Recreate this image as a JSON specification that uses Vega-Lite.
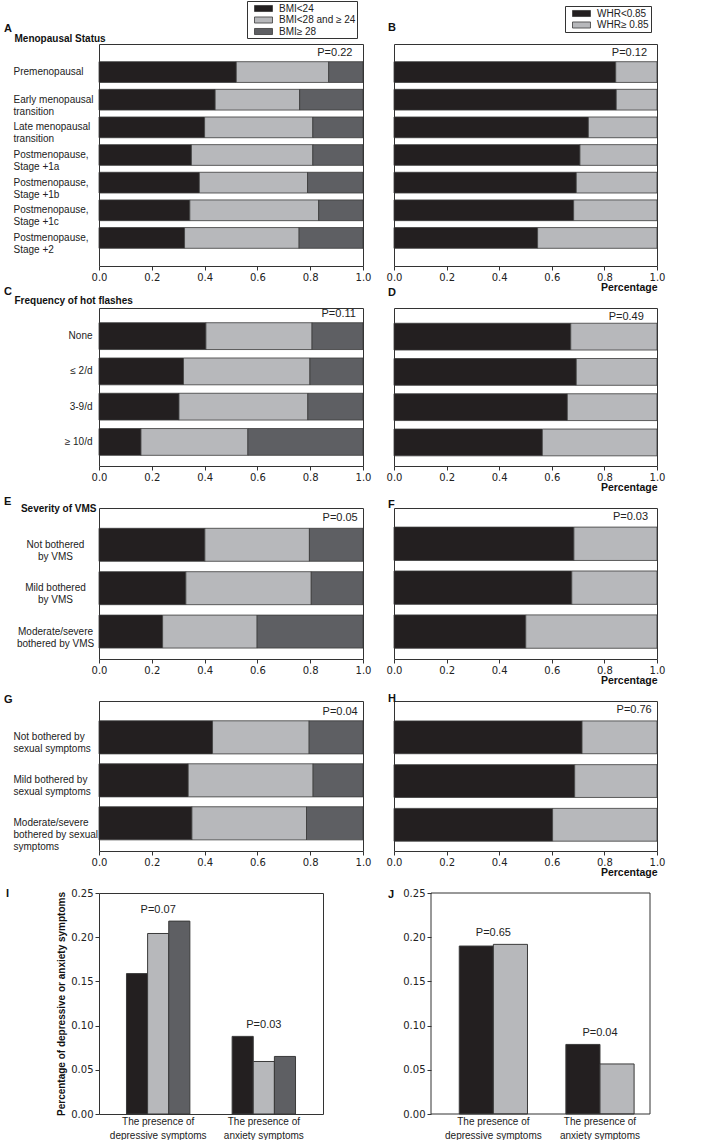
{
  "$schema": "https://vega.github.io/schema/vega-lite/v6.json",
  "padding": {"left": 3, "top": 0, "right": 2, "bottom": 0},
  "background": "white",
  "columns": 2,
  "spacing": {"row": 42, "column": 31},
  "bounds": "flush",
  "resolve": {"scale": {"color": "independent", "xOffset": "independent"}, "legend": {"color": "independent"}},
  "concat": [
    {
      "width": 264, "height": 222,
      "title": {"text": "A", "dx": -95, "offset": -33},
      "data": {"values": [
        {"cat": "Premenopausal", "grp": "BMI<24", "val": 0.52},
        {"cat": "Premenopausal", "grp": "BMI<28 and ≥ 24", "val": 0.35},
        {"cat": "Premenopausal", "grp": "BMI≥ 28", "val": 0.13},
        {"cat": "Early menopausal|transition", "grp": "BMI<24", "val": 0.44},
        {"cat": "Early menopausal|transition", "grp": "BMI<28 and ≥ 24", "val": 0.32},
        {"cat": "Early menopausal|transition", "grp": "BMI≥ 28", "val": 0.24},
        {"cat": "Late menopausal|transition", "grp": "BMI<24", "val": 0.40},
        {"cat": "Late menopausal|transition", "grp": "BMI<28 and ≥ 24", "val": 0.41},
        {"cat": "Late menopausal|transition", "grp": "BMI≥ 28", "val": 0.19},
        {"cat": "Postmenopause,|Stage +1a", "grp": "BMI<24", "val": 0.35},
        {"cat": "Postmenopause,|Stage +1a", "grp": "BMI<28 and ≥ 24", "val": 0.46},
        {"cat": "Postmenopause,|Stage +1a", "grp": "BMI≥ 28", "val": 0.19},
        {"cat": "Postmenopause,|Stage +1b", "grp": "BMI<24", "val": 0.38},
        {"cat": "Postmenopause,|Stage +1b", "grp": "BMI<28 and ≥ 24", "val": 0.41},
        {"cat": "Postmenopause,|Stage +1b", "grp": "BMI≥ 28", "val": 0.21},
        {"cat": "Postmenopause,|Stage +1c", "grp": "BMI<24", "val": 0.344},
        {"cat": "Postmenopause,|Stage +1c", "grp": "BMI<28 and ≥ 24", "val": 0.488},
        {"cat": "Postmenopause,|Stage +1c", "grp": "BMI≥ 28", "val": 0.168},
        {"cat": "Postmenopause,|Stage +2", "grp": "BMI<24", "val": 0.324},
        {"cat": "Postmenopause,|Stage +2", "grp": "BMI<28 and ≥ 24", "val": 0.434},
        {"cat": "Postmenopause,|Stage +2", "grp": "BMI≥ 28", "val": 0.242}
      ]},
      "layer": [
        {
          "mark": {"type": "bar"},
          "encoding": {
            "y": {"field": "cat", "type": "nominal", "sort": null, "scale": {"paddingInner": 0.25, "paddingOuter": 0.64},
                  "axis": {"title": "Menopausal Status", "titleAngle": 0, "titleAlign": "left", "titleBaseline": "middle", "titleX": -85, "titleY": -6, "titleFontSize": 10,
                           "domain": false, "ticks": false, "tickSize": 0, "labelAlign": "left", "labelPadding": 86, "labelFont": "Liberation Sans", "labelFontSize": 10, "labelLineHeight": 12, "labelExpr": "split(datum.label, '|')"}},
            "x": {"field": "val", "type": "quantitative", "stack": "zero", "scale": {"domain": [0, 1], "nice": false},
                  "axis": {"title": null, "values": [0, 0.2, 0.4, 0.6, 0.8, 1], "format": ".1f", "tickSize": 4, "labelPadding": 2, "labelFlush": false, "domain": false}},
            "color": {"field": "grp", "type": "nominal", "scale": {"domain": ["BMI<24", "BMI<28 and ≥ 24", "BMI≥ 28"], "range": ["#231f20", "#b7b8bb", "#5e5f63"]},
                      "legend": {"title": null, "orient": "none", "legendX": 148, "legendY": -43}}
          }
        },
        {
          "data": {"values": [{"p": "P=0.22"}]},
          "mark": {"type": "text", "align": "right", "baseline": "middle", "dy": -19},
          "encoding": {"x": {"datum": 0.96, "type": "quantitative"}, "y": {"datum": "Premenopausal", "type": "nominal"}, "text": {"field": "p", "type": "nominal"}}
        }
      ]
    },
    {
      "width": 263, "height": 222,
      "title": {"text": "B", "dx": -6, "offset": -27},
      "data": {"values": [
        {"cat": "Premenopausal", "grp": "WHR<0.85", "val": 0.843},
        {"cat": "Premenopausal", "grp": "WHR≥ 0.85", "val": 0.157},
        {"cat": "Early menopausal|transition", "grp": "WHR<0.85", "val": 0.845},
        {"cat": "Early menopausal|transition", "grp": "WHR≥ 0.85", "val": 0.155},
        {"cat": "Late menopausal|transition", "grp": "WHR<0.85", "val": 0.739},
        {"cat": "Late menopausal|transition", "grp": "WHR≥ 0.85", "val": 0.261},
        {"cat": "Postmenopause,|Stage +1a", "grp": "WHR<0.85", "val": 0.707},
        {"cat": "Postmenopause,|Stage +1a", "grp": "WHR≥ 0.85", "val": 0.293},
        {"cat": "Postmenopause,|Stage +1b", "grp": "WHR<0.85", "val": 0.693},
        {"cat": "Postmenopause,|Stage +1b", "grp": "WHR≥ 0.85", "val": 0.307},
        {"cat": "Postmenopause,|Stage +1c", "grp": "WHR<0.85", "val": 0.683},
        {"cat": "Postmenopause,|Stage +1c", "grp": "WHR≥ 0.85", "val": 0.317},
        {"cat": "Postmenopause,|Stage +2", "grp": "WHR<0.85", "val": 0.546},
        {"cat": "Postmenopause,|Stage +2", "grp": "WHR≥ 0.85", "val": 0.454}
      ]},
      "layer": [
        {
          "mark": {"type": "bar"},
          "encoding": {
            "y": {"field": "cat", "type": "nominal", "sort": null, "scale": {"paddingInner": 0.25, "paddingOuter": 0.64}, "axis": null},
            "x": {"field": "val", "type": "quantitative", "stack": "zero", "scale": {"domain": [0, 1], "nice": false},
                  "axis": {"title": "Percentage", "titleAnchor": "end", "titlePadding": 0, "values": [0, 0.2, 0.4, 0.6, 0.8, 1], "format": ".1f", "tickSize": 4, "labelPadding": 2, "labelFlush": false, "domain": false}},
            "color": {"field": "grp", "type": "nominal", "scale": {"domain": ["WHR<0.85", "WHR≥ 0.85"], "range": ["#231f20", "#b7b8bb"]},
                      "legend": {"title": null, "orient": "none", "legendX": 171, "legendY": -38}}
          }
        },
        {
          "data": {"values": [{"p": "P=0.12"}]},
          "mark": {"type": "text", "align": "right", "baseline": "middle", "dy": -19},
          "encoding": {"x": {"datum": 0.962, "type": "quantitative"}, "y": {"datum": "Premenopausal", "type": "nominal"}, "text": {"field": "p", "type": "nominal"}}
        }
      ]
    },
    {
      "width": 264, "height": 158,
      "title": {"text": "C", "dx": -95, "offset": -2},
      "data": {"values": [
        {"cat": "None", "grp": "BMI<24", "val": 0.405},
        {"cat": "None", "grp": "BMI<28 and ≥ 24", "val": 0.402},
        {"cat": "None", "grp": "BMI≥ 28", "val": 0.193},
        {"cat": "≤ 2/d", "grp": "BMI<24", "val": 0.320},
        {"cat": "≤ 2/d", "grp": "BMI<28 and ≥ 24", "val": 0.479},
        {"cat": "≤ 2/d", "grp": "BMI≥ 28", "val": 0.201},
        {"cat": "3-9/d", "grp": "BMI<24", "val": 0.303},
        {"cat": "3-9/d", "grp": "BMI<28 and ≥ 24", "val": 0.488},
        {"cat": "3-9/d", "grp": "BMI≥ 28", "val": 0.209},
        {"cat": "≥ 10/d", "grp": "BMI<24", "val": 0.159},
        {"cat": "≥ 10/d", "grp": "BMI<28 and ≥ 24", "val": 0.405},
        {"cat": "≥ 10/d", "grp": "BMI≥ 28", "val": 0.436}
      ]},
      "layer": [
        {
          "mark": {"type": "bar"},
          "encoding": {
            "y": {"field": "cat", "type": "nominal", "sort": null, "scale": {"paddingInner": 0.24, "paddingOuter": 0.36, "align": 0.58},
                  "axis": {"title": "Frequency of hot flashes", "titleAngle": 0, "titleAlign": "left", "titleBaseline": "middle", "titleX": -85, "titleY": -8, "titleFontSize": 10,
                           "domain": false, "ticks": false, "tickSize": 0, "labelAlign": "right", "labelPadding": 7, "labelFont": "Liberation Sans", "labelFontSize": 10}},
            "x": {"field": "val", "type": "quantitative", "stack": "zero", "scale": {"domain": [0, 1], "nice": false},
                  "axis": {"title": null, "values": [0, 0.2, 0.4, 0.6, 0.8, 1], "format": ".1f", "tickSize": 4, "labelPadding": 2, "labelFlush": false, "domain": false}},
            "color": {"field": "grp", "type": "nominal", "scale": {"domain": ["BMI<24", "BMI<28 and ≥ 24", "BMI≥ 28"], "range": ["#231f20", "#b7b8bb", "#5e5f63"]}, "legend": null}
          }
        },
        {
          "data": {"values": [{"p": "P=0.11"}]},
          "mark": {"type": "text", "align": "right", "baseline": "middle", "dy": -22},
          "encoding": {"x": {"datum": 0.973, "type": "quantitative"}, "y": {"datum": "None", "type": "nominal"}, "text": {"field": "p", "type": "nominal"}}
        }
      ]
    },
    {
      "width": 263, "height": 158,
      "title": {"text": "D", "dx": -6, "offset": 10.5},
      "data": {"values": [
        {"cat": "None", "grp": "WHR<0.85", "val": 0.672},
        {"cat": "None", "grp": "WHR≥ 0.85", "val": 0.328},
        {"cat": "≤ 2/d", "grp": "WHR<0.85", "val": 0.693},
        {"cat": "≤ 2/d", "grp": "WHR≥ 0.85", "val": 0.307},
        {"cat": "3-9/d", "grp": "WHR<0.85", "val": 0.659},
        {"cat": "3-9/d", "grp": "WHR≥ 0.85", "val": 0.341},
        {"cat": "≥ 10/d", "grp": "WHR<0.85", "val": 0.564},
        {"cat": "≥ 10/d", "grp": "WHR≥ 0.85", "val": 0.436}
      ]},
      "layer": [
        {
          "mark": {"type": "bar"},
          "encoding": {
            "y": {"field": "cat", "type": "nominal", "sort": null, "scale": {"paddingInner": 0.24, "paddingOuter": 0.36, "align": 0.6}, "axis": null},
            "x": {"field": "val", "type": "quantitative", "stack": "zero", "scale": {"domain": [0, 1], "nice": false},
                  "axis": {"title": "Percentage", "titleAnchor": "end", "titlePadding": 0, "values": [0, 0.2, 0.4, 0.6, 0.8, 1], "format": ".1f", "tickSize": 4, "labelPadding": 2, "labelFlush": false, "domain": false}},
            "color": {"field": "grp", "type": "nominal", "scale": {"domain": ["WHR<0.85", "WHR≥ 0.85"], "range": ["#231f20", "#b7b8bb"]}, "legend": null}
          }
        },
        {
          "data": {"values": [{"p": "P=0.49"}]},
          "mark": {"type": "text", "align": "right", "baseline": "middle", "dy": -20},
          "encoding": {"x": {"datum": 0.95, "type": "quantitative"}, "y": {"datum": "None", "type": "nominal"}, "text": {"field": "p", "type": "nominal"}}
        }
      ]
    },
    {
      "width": 264, "height": 151,
      "title": {"text": "E", "dx": -95, "offset": -3.5},
      "data": {"values": [
        {"cat": "Not bothered|by VMS", "grp": "BMI<24", "val": 0.401},
        {"cat": "Not bothered|by VMS", "grp": "BMI<28 and ≥ 24", "val": 0.396},
        {"cat": "Not bothered|by VMS", "grp": "BMI≥ 28", "val": 0.203},
        {"cat": "Mild bothered|by VMS", "grp": "BMI<24", "val": 0.329},
        {"cat": "Mild bothered|by VMS", "grp": "BMI<28 and ≥ 24", "val": 0.475},
        {"cat": "Mild bothered|by VMS", "grp": "BMI≥ 28", "val": 0.196},
        {"cat": "Moderate/severe|bothered by VMS", "grp": "BMI<24", "val": 0.241},
        {"cat": "Moderate/severe|bothered by VMS", "grp": "BMI<28 and ≥ 24", "val": 0.358},
        {"cat": "Moderate/severe|bothered by VMS", "grp": "BMI≥ 28", "val": 0.401}
      ]},
      "layer": [
        {
          "mark": {"type": "bar"},
          "encoding": {
            "y": {"field": "cat", "type": "nominal", "sort": null, "scale": {"paddingInner": 0.24, "paddingOuter": 0.36, "align": 0.65},
                  "axis": {"title": "Severity of VMS", "titleAngle": 0, "titleAlign": "right", "titleBaseline": "middle", "titleX": -3, "titleY": 0, "titleFontSize": 10,
                           "domain": false, "ticks": false, "tickSize": 0, "labelAlign": "center", "labelPadding": 44, "labelFont": "Liberation Sans", "labelFontSize": 10, "labelLineHeight": 12, "labelExpr": "split(datum.label, '|')"}},
            "x": {"field": "val", "type": "quantitative", "stack": "zero", "scale": {"domain": [0, 1], "nice": false},
                  "axis": {"title": null, "values": [0, 0.2, 0.4, 0.6, 0.8, 1], "format": ".1f", "tickSize": 4, "labelPadding": 2, "labelFlush": false, "domain": false}},
            "color": {"field": "grp", "type": "nominal", "scale": {"domain": ["BMI<24", "BMI<28 and ≥ 24", "BMI≥ 28"], "range": ["#231f20", "#b7b8bb", "#5e5f63"]}, "legend": null}
          }
        },
        {
          "data": {"values": [{"p": "P=0.05"}]},
          "mark": {"type": "text", "align": "right", "baseline": "middle", "dy": -27},
          "encoding": {"x": {"datum": 0.98, "type": "quantitative"}, "y": {"datum": "Not bothered|by VMS", "type": "nominal"}, "text": {"field": "p", "type": "nominal"}}
        }
      ]
    },
    {
      "width": 263, "height": 151,
      "title": {"text": "F", "dx": -6, "offset": -1.5},
      "data": {"values": [
        {"cat": "Not bothered|by VMS", "grp": "WHR<0.85", "val": 0.684},
        {"cat": "Not bothered|by VMS", "grp": "WHR≥ 0.85", "val": 0.316},
        {"cat": "Mild bothered|by VMS", "grp": "WHR<0.85", "val": 0.676},
        {"cat": "Mild bothered|by VMS", "grp": "WHR≥ 0.85", "val": 0.324},
        {"cat": "Moderate/severe|bothered by VMS", "grp": "WHR<0.85", "val": 0.501},
        {"cat": "Moderate/severe|bothered by VMS", "grp": "WHR≥ 0.85", "val": 0.499}
      ]},
      "layer": [
        {
          "mark": {"type": "bar"},
          "encoding": {
            "y": {"field": "cat", "type": "nominal", "sort": null, "scale": {"paddingInner": 0.24, "paddingOuter": 0.34, "align": 0.64}, "axis": null},
            "x": {"field": "val", "type": "quantitative", "stack": "zero", "scale": {"domain": [0, 1], "nice": false},
                  "axis": {"title": "Percentage", "titleAnchor": "end", "titlePadding": 0, "values": [0, 0.2, 0.4, 0.6, 0.8, 1], "format": ".1f", "tickSize": 4, "labelPadding": 2, "labelFlush": false, "domain": false}},
            "color": {"field": "grp", "type": "nominal", "scale": {"domain": ["WHR<0.85", "WHR≥ 0.85"], "range": ["#231f20", "#b7b8bb"]}, "legend": null}
          }
        },
        {
          "data": {"values": [{"p": "P=0.03"}]},
          "mark": {"type": "text", "align": "right", "baseline": "middle", "dy": -27},
          "encoding": {"x": {"datum": 0.966, "type": "quantitative"}, "y": {"datum": "Not bothered|by VMS", "type": "nominal"}, "text": {"field": "p", "type": "nominal"}}
        }
      ]
    },
    {
      "width": 264, "height": 150,
      "title": {"text": "G", "dx": -95, "offset": -3.5},
      "data": {"values": [
        {"cat": "Not bothered by|sexual symptoms", "grp": "BMI<24", "val": 0.430},
        {"cat": "Not bothered by|sexual symptoms", "grp": "BMI<28 and ≥ 24", "val": 0.366},
        {"cat": "Not bothered by|sexual symptoms", "grp": "BMI≥ 28", "val": 0.204},
        {"cat": "Mild bothered by|sexual symptoms", "grp": "BMI<24", "val": 0.338},
        {"cat": "Mild bothered by|sexual symptoms", "grp": "BMI<28 and ≥ 24", "val": 0.473},
        {"cat": "Mild bothered by|sexual symptoms", "grp": "BMI≥ 28", "val": 0.189},
        {"cat": "Moderate/severe|bothered by sexual|symptoms", "grp": "BMI<24", "val": 0.352},
        {"cat": "Moderate/severe|bothered by sexual|symptoms", "grp": "BMI<28 and ≥ 24", "val": 0.434},
        {"cat": "Moderate/severe|bothered by sexual|symptoms", "grp": "BMI≥ 28", "val": 0.214}
      ]},
      "layer": [
        {
          "mark": {"type": "bar"},
          "encoding": {
            "y": {"field": "cat", "type": "nominal", "sort": null, "scale": {"paddingInner": 0.23, "paddingOuter": 0.36, "align": 0.64},
                  "axis": {"title": null, "domain": false, "ticks": false, "tickSize": 0, "labelAlign": "left", "labelPadding": 86, "labelFont": "Liberation Sans", "labelFontSize": 10, "labelLineHeight": 12, "labelExpr": "split(datum.label, '|')"}},
            "x": {"field": "val", "type": "quantitative", "stack": "zero", "scale": {"domain": [0, 1], "nice": false},
                  "axis": {"title": null, "values": [0, 0.2, 0.4, 0.6, 0.8, 1], "format": ".1f", "tickSize": 4, "labelPadding": 2, "labelFlush": false, "domain": false}},
            "color": {"field": "grp", "type": "nominal", "scale": {"domain": ["BMI<24", "BMI<28 and ≥ 24", "BMI≥ 28"], "range": ["#231f20", "#b7b8bb", "#5e5f63"]}, "legend": null}
          }
        },
        {
          "data": {"values": [{"p": "P=0.04"}]},
          "mark": {"type": "text", "align": "right", "baseline": "middle", "dy": -25},
          "encoding": {"x": {"datum": 0.98, "type": "quantitative"}, "y": {"datum": "Not bothered by|sexual symptoms", "type": "nominal"}, "text": {"field": "p", "type": "nominal"}}
        }
      ]
    },
    {
      "width": 263, "height": 150,
      "title": {"text": "H", "dx": -6, "offset": -2.5},
      "data": {"values": [
        {"cat": "Not bothered by|sexual symptoms", "grp": "WHR<0.85", "val": 0.715},
        {"cat": "Not bothered by|sexual symptoms", "grp": "WHR≥ 0.85", "val": 0.285},
        {"cat": "Mild bothered by|sexual symptoms", "grp": "WHR<0.85", "val": 0.687},
        {"cat": "Mild bothered by|sexual symptoms", "grp": "WHR≥ 0.85", "val": 0.313},
        {"cat": "Moderate/severe|bothered by sexual|symptoms", "grp": "WHR<0.85", "val": 0.603},
        {"cat": "Moderate/severe|bothered by sexual|symptoms", "grp": "WHR≥ 0.85", "val": 0.397}
      ]},
      "layer": [
        {
          "mark": {"type": "bar"},
          "encoding": {
            "y": {"field": "cat", "type": "nominal", "sort": null, "scale": {"paddingInner": 0.25, "paddingOuter": 0.34, "align": 0.67}, "axis": null},
            "x": {"field": "val", "type": "quantitative", "stack": "zero", "scale": {"domain": [0, 1], "nice": false},
                  "axis": {"title": "Percentage", "titleAnchor": "end", "titlePadding": 0, "values": [0, 0.2, 0.4, 0.6, 0.8, 1], "format": ".1f", "tickSize": 4, "labelPadding": 2, "labelFlush": false, "domain": false}},
            "color": {"field": "grp", "type": "nominal", "scale": {"domain": ["WHR<0.85", "WHR≥ 0.85"], "range": ["#231f20", "#b7b8bb"]}, "legend": null}
          }
        },
        {
          "data": {"values": [{"p": "P=0.76"}]},
          "mark": {"type": "text", "align": "right", "baseline": "middle", "dy": -27},
          "encoding": {"x": {"datum": 0.98, "type": "quantitative"}, "y": {"datum": "Not bothered by|sexual symptoms", "type": "nominal"}, "text": {"field": "p", "type": "nominal"}}
        }
      ]
    },
    {
      "width": 224, "height": 221,
      "title": {"text": "I", "dx": -93, "offset": -11},
      "data": {"values": [
        {"sym": "The presence of|depressive symptoms", "grp": "BMI<24", "val": 0.1588, "p": "P=0.07"},
        {"sym": "The presence of|depressive symptoms", "grp": "BMI<28 and ≥ 24", "val": 0.2042, "p": "P=0.07"},
        {"sym": "The presence of|depressive symptoms", "grp": "BMI≥ 28", "val": 0.2182, "p": "P=0.07"},
        {"sym": "The presence of|anxiety symptoms", "grp": "BMI<24", "val": 0.0878, "p": "P=0.03"},
        {"sym": "The presence of|anxiety symptoms", "grp": "BMI<28 and ≥ 24", "val": 0.0594, "p": "P=0.03"},
        {"sym": "The presence of|anxiety symptoms", "grp": "BMI≥ 28", "val": 0.0651, "p": "P=0.03"}
      ]},
      "layer": [
        {
          "mark": {"type": "bar", "strokeWidth": 1},
          "encoding": {
            "x": {"field": "sym", "type": "nominal", "sort": null, "scale": {"paddingInner": 0.4, "paddingOuter": 0.26},
                  "axis": {"title": null, "domain": false, "ticks": false, "tickSize": 0, "labelAngle": 0, "labelPadding": 2, "labelFont": "Liberation Sans", "labelFontSize": 10, "labelLineHeight": 14, "labelExpr": "split(datum.label, '|')"}},
            "xOffset": {"field": "grp", "type": "nominal", "sort": null, "scale": {"paddingInner": 0, "paddingOuter": 0}},
            "y": {"field": "val", "type": "quantitative", "scale": {"domain": [0, 0.25], "nice": false},
                  "axis": {"title": "Percentage of depressive or anxiety symptoms", "titleFontSize": 10, "titlePadding": 4, "values": [0, 0.05, 0.1, 0.15, 0.2, 0.25], "format": ".2f", "tickSize": 4, "labelPadding": 2, "domain": false}},
            "color": {"field": "grp", "type": "nominal", "scale": {"domain": ["BMI<24", "BMI<28 and ≥ 24", "BMI≥ 28"], "range": ["#231f20", "#b7b8bb", "#5e5f63"]}, "legend": null}
          }
        },
        {
          "transform": [{"aggregate": [{"op": "max", "field": "val", "as": "top"}], "groupby": ["sym", "p"]}],
          "mark": {"type": "text", "baseline": "middle", "dy": -11},
          "encoding": {
            "x": {"field": "sym", "type": "nominal", "sort": null},
            "y": {"field": "top", "type": "quantitative"},
            "text": {"field": "p", "type": "nominal"}
          }
        }
      ]
    },
    {
      "width": 263, "height": 221,
      "view": {"stroke": null},
      "title": {"text": "J", "dx": -6, "offset": -12},
      "data": {"values": [
        {"sym": "The presence of|depressive symptoms", "grp": "WHR<0.85", "val": 0.190, "p": "P=0.65"},
        {"sym": "The presence of|depressive symptoms", "grp": "WHR≥ 0.85", "val": 0.1919, "p": "P=0.65"},
        {"sym": "The presence of|anxiety symptoms", "grp": "WHR<0.85", "val": 0.0787, "p": "P=0.04"},
        {"sym": "The presence of|anxiety symptoms", "grp": "WHR≥ 0.85", "val": 0.0566, "p": "P=0.04"}
      ]},
      "resolve": {"scale": {"x": "independent"}, "axis": {"x": "independent"}},
      "layer": [
        {
          "layer": [
            {
              "mark": {"type": "bar", "strokeWidth": 1},
              "encoding": {
                "x": {"field": "sym", "type": "nominal", "sort": null, "scale": {"range": [37, 256], "paddingInner": 0.36, "paddingOuter": 0.207, "align": 0.64},
                      "axis": {"title": null, "domain": false, "ticks": false, "tickSize": 0, "labelAngle": 0, "labelPadding": 2, "labelFont": "Liberation Sans", "labelFontSize": 10, "labelLineHeight": 14, "labelExpr": "split(datum.label, '|')"}},
                "xOffset": {"field": "grp", "type": "nominal", "sort": null, "scale": {"paddingInner": 0, "paddingOuter": 0}},
                "y": {"field": "val", "type": "quantitative", "scale": {"domain": [0, 0.25], "nice": false},
                      "axis": {"title": null, "offset": -37, "values": [0, 0.05, 0.1, 0.15, 0.2, 0.25], "format": ".2f", "tickSize": 4, "labelPadding": 2, "domain": false}},
                "color": {"field": "grp", "type": "nominal", "scale": {"domain": ["WHR<0.85", "WHR≥ 0.85"], "range": ["#231f20", "#b7b8bb"]}, "legend": null}
              }
            },
            {
              "transform": [{"aggregate": [{"op": "max", "field": "val", "as": "top"}], "groupby": ["sym", "p"]}],
              "mark": {"type": "text", "baseline": "middle", "dy": -11},
              "encoding": {
                "x": {"field": "sym", "type": "nominal", "sort": null},
                "y": {"field": "top", "type": "quantitative"},
                "text": {"field": "p", "type": "nominal"}
              }
            }
          ]
        },
        {
          "transform": [{"aggregate": [{"op": "count", "as": "n"}]}],
          "mark": {"type": "rect", "fill": "transparent", "stroke": "#333333", "strokeWidth": 1},
          "encoding": {
            "x": {"datum": 0, "type": "quantitative", "scale": {"domain": [0, 1], "range": [37, 256]}, "axis": null},
            "x2": {"datum": 1},
            "y": {"datum": 0, "type": "quantitative"},
            "y2": {"datum": 0.25}
          }
        }
      ]
    }
  ],
  "config": {
    "font": "Liberation Sans",
    "view": {"stroke": "#333333", "strokeWidth": 1},
    "axis": {"grid": false, "labelColor": "#222222", "titleColor": "#111111", "domainColor": "#333333", "tickColor": "#333333", "labelFont": "DejaVu Sans", "labelFontSize": 10, "titleFont": "Liberation Sans", "titleFontWeight": "bold", "titleFontSize": 10.5},
    "title": {"anchor": "start", "frame": "group", "font": "Liberation Sans", "fontSize": 11, "fontWeight": "bold", "color": "#111111"},
    "legend": {"labelFont": "Liberation Sans", "labelFontSize": 10, "labelColor": "#222222", "symbolType": "M0,-0.55H3.27V0.55H0Z", "symbolSize": 121, "symbolStrokeWidth": 0, "rowPadding": 0.5, "padding": 1.5, "labelOffset": 18.5, "strokeColor": "#333333", "fillColor": "#ffffff"},
    "bar": {"stroke": "#3a3a3a", "strokeWidth": 0.8},
    "text": {"font": "Liberation Sans", "fontSize": 11, "color": "#222222"}
  }
}
